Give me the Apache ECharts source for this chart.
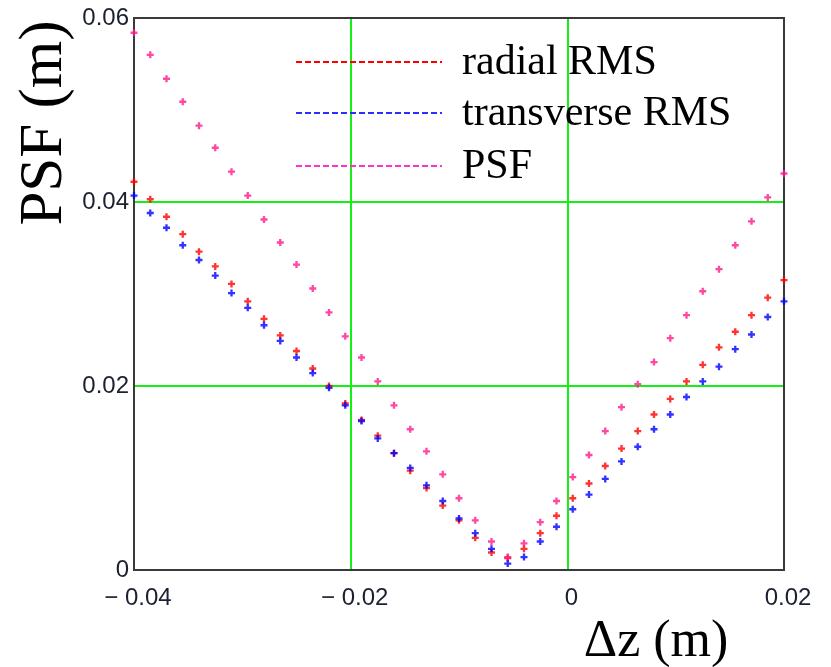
<!DOCTYPE html>
<html>
<head>
<meta charset="utf-8">
<title>PSF vs defocus</title>
<script src="https://cdn.jsdelivr.net/npm/echarts@6/dist/echarts.min.js"></script>
<style>
  html, body { margin: 0; padding: 0; background: #ffffff; }
  #chart { width: 831px; height: 667px; }
</style>
</head>
<body>
<div id="chart"></div>
<script>
// Defocus positions (m)
const dz = [
  -0.0400, -0.0385, -0.0370, -0.0355, -0.0340, -0.0325, -0.0310, -0.0295,
  -0.0280, -0.0265, -0.0250, -0.0235, -0.0220, -0.0205, -0.0190, -0.0175,
  -0.0160, -0.0145, -0.0130, -0.0115, -0.0100, -0.0085, -0.0070, -0.0055,
  -0.0040, -0.0025, -0.0010,  0.0005,  0.0020,  0.0035,  0.0050,  0.0065,
   0.0080,  0.0095,  0.0110,  0.0125,  0.0140,  0.0155,  0.0170,  0.0185,
   0.0200
];

// Radial RMS spot size (m)
const radialRMS = [
  0.0422, 0.0403, 0.0384, 0.0365, 0.0346, 0.0330, 0.0311, 0.0292,
  0.0273, 0.0255, 0.0238, 0.0219, 0.0200, 0.0181, 0.0163, 0.0146,
  0.0127, 0.0108, 0.0089, 0.0070, 0.0054, 0.0035, 0.0019, 0.0013,
  0.0023, 0.0040, 0.0059, 0.0078, 0.0094, 0.0113, 0.0132, 0.0151,
  0.0169, 0.0186, 0.0205, 0.0223, 0.0242, 0.0259, 0.0277, 0.0296,
  0.0315
];

// Transverse RMS spot size (m)
const transverseRMS = [
  0.0407, 0.0388, 0.0372, 0.0353, 0.0337, 0.0320, 0.0301, 0.0285,
  0.0266, 0.0249, 0.0231, 0.0214, 0.0198, 0.0179, 0.0162, 0.0143,
  0.0127, 0.0111, 0.0092, 0.0075, 0.0056, 0.0040, 0.0023, 0.0007,
  0.0014, 0.0031, 0.0047, 0.0066, 0.0082, 0.0099, 0.0118, 0.0134,
  0.0153, 0.0169, 0.0188, 0.0205, 0.0221, 0.0240, 0.0256, 0.0275,
  0.0292
];

// Point spread function width (m)
const psf = [
  0.0584, 0.0560, 0.0534, 0.0509, 0.0483, 0.0459, 0.0433, 0.0407,
  0.0381, 0.0356, 0.0332, 0.0306, 0.0280, 0.0254, 0.0231, 0.0205,
  0.0179, 0.0153, 0.0129, 0.0104, 0.0078, 0.0054, 0.0031, 0.0014,
  0.0029, 0.0052, 0.0075, 0.0101, 0.0125, 0.0151, 0.0177, 0.0202,
  0.0226, 0.0252, 0.0277, 0.0303, 0.0327, 0.0353, 0.0379, 0.0405,
  0.0431
];

const seriesNames = ['radial RMS', 'transverse RMS', 'PSF'];
const xTickLabels = { '-0.04': '\u2212 0.04', '-0.02': '\u2212 0.02', '0': '0', '0.02': '0.02' };
const yTickLabels = { '0': '0', '0.02': '0.02', '0.04': '0.04', '0.06': '0.06' };

const colors = ['#ff0000', '#0000ff', '#ff1a8c'];
const legendColors = ['#ff0000', '#2e2eff', '#ff33cc'];

// small "+" marker
const plusMark = 'path://M2,0H4V2H6V4H4V6H2V4H0V2H2Z';

function pairs(ys) { return dz.map((x, i) => [x, ys[i]]); }
function tickKey(v) { return String(Math.round(v * 100) / 100); }

const tickFont = '"Liberation Sans", Arial, sans-serif';
const serif = '"Liberation Serif", "Times New Roman", serif';

const chart = echarts.init(document.getElementById('chart'), null, { renderer: 'canvas' });

const legendY = [62, 113, 166];
const legendGraphics = [];
seriesNames.forEach((name, i) => {
  legendGraphics.push({
    type: 'line',
    shape: { x1: 296, y1: legendY[i], x2: 442, y2: legendY[i] },
    style: { stroke: legendColors[i], lineWidth: 2, lineDash: [6, 3] },
    z: 10
  });
  legendGraphics.push({
    type: 'text',
    x: 462, y: legendY[i] + 1,
    style: { text: name, font: '42px ' + serif, fill: '#000', textVerticalAlign: 'middle', textAlign: 'left' },
    z: 10
  });
});

chart.setOption({
  animation: false,
  backgroundColor: '#ffffff',
  grid: {
    left: 134, top: 18, width: 650, height: 552,
    show: true, borderColor: '#3a3a3a', borderWidth: 2, backgroundColor: 'transparent', z: 3
  },
  xAxis: {
    type: 'value', min: -0.04, max: 0.02, interval: 0.02,
    axisLine: { show: true, onZero: false, lineStyle: { color: '#3a3a3a', width: 2 } },
    axisTick: { show: false },
    splitLine: { show: true, lineStyle: { color: '#14f014', width: 2 } },
    axisLabel: {
      margin: 16, fontFamily: tickFont, fontSize: 24, color: '#1c2030',
      padding: [0, 0, 0, 8],
      formatter: v => xTickLabels[tickKey(v)] ?? ''
    }
  },
  yAxis: {
    type: 'value', min: 0, max: 0.06, interval: 0.02,
    axisLine: { show: true, onZero: false, lineStyle: { color: '#3a3a3a', width: 2 } },
    axisTick: { show: false },
    splitLine: { show: true, lineStyle: { color: '#14f014', width: 2 } },
    axisLabel: {
      margin: 5, fontFamily: tickFont, fontSize: 24, color: '#1c2030',
      padding: [6, 0, 0, 0],
      formatter: v => yTickLabels[tickKey(v)] ?? ''
    }
  },
  graphic: [
    {
      type: 'text', x: 45, y: 123, rotation: Math.PI / 2,
      style: { text: 'PSF (m)', font: '61px ' + serif, fill: '#000', textAlign: 'center', textVerticalAlign: 'middle' }
    },
    {
      type: 'text', x: 656, y: 642,
      style: { text: '\u0394z (m)', font: '52px ' + serif, fill: '#000', textAlign: 'center', textVerticalAlign: 'middle' }
    }
  ].concat(legendGraphics),
  series: [
    { name: seriesNames[0], type: 'scatter', data: pairs(radialRMS), symbol: plusMark, symbolSize: 7, itemStyle: { color: colors[0] }, z: 4 },
    { name: seriesNames[1], type: 'scatter', data: pairs(transverseRMS), symbol: plusMark, symbolSize: 7, itemStyle: { color: colors[1] }, z: 5 },
    { name: seriesNames[2], type: 'scatter', data: pairs(psf), symbol: plusMark, symbolSize: 7, itemStyle: { color: colors[2] }, z: 6 }
  ]
});
</script>
</body>
</html>
